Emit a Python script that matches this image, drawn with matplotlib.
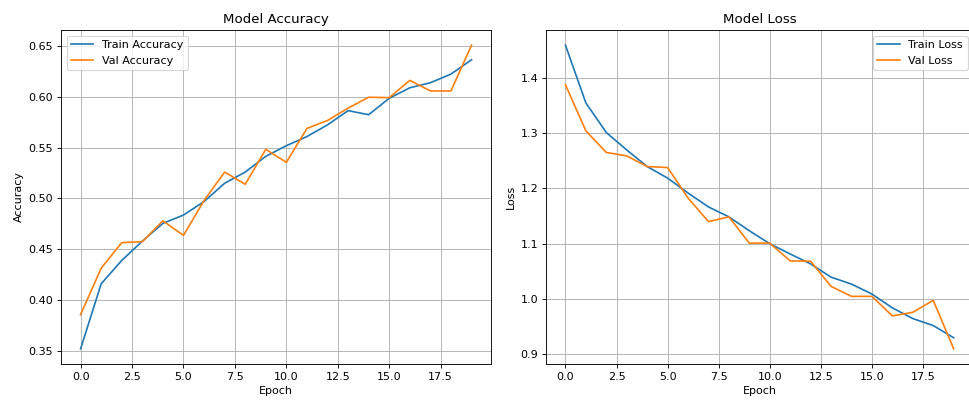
import numpy as np
import matplotlib
matplotlib.use("Agg")
import matplotlib.pyplot as plt

epochs = list(range(20))

train_acc = [0.352, 0.416, 0.439, 0.458, 0.4755, 0.4837, 0.497, 0.515, 0.526, 0.5415,
             0.552, 0.561, 0.5725, 0.5865, 0.5825, 0.5987, 0.609, 0.614, 0.6225, 0.6366]
val_acc = [0.3856, 0.4314, 0.4565, 0.4575, 0.478, 0.4637, 0.498, 0.526, 0.514, 0.5484,
           0.5356, 0.569, 0.5768, 0.589, 0.5997, 0.5993, 0.6163, 0.6059, 0.6059, 0.651]

train_loss = [1.459, 1.3545, 1.301, 1.2695, 1.2395, 1.2186, 1.1916, 1.1665, 1.1485, 1.1234,
              1.100, 1.0814, 1.0635, 1.0395, 1.027, 1.009, 0.984, 0.9647, 0.952, 0.930]
val_loss = [1.3874, 1.304, 1.265, 1.2587, 1.2395, 1.2377, 1.1826, 1.140, 1.1485, 1.101,
            1.101, 1.0689, 1.0683, 1.0228, 1.0048, 1.0048, 0.9695, 0.976, 0.9976, 0.910]

fig = plt.figure(figsize=(969 / 80, 401 / 80), dpi=80)

# right panel runs past the figure edge like in the original crop
ax1 = fig.add_axes([0.063, 0.0923, 0.4438, 0.833])
ax2 = fig.add_axes([0.5635, 0.0923, 0.4407, 0.833])

ax1.plot(epochs, train_acc, label="Train Accuracy")
ax1.plot(epochs, val_acc, label="Val Accuracy")
ax1.set_title("Model Accuracy")
ax1.set_xlabel("Epoch")
ax1.set_ylabel("Accuracy")
ax1.legend()
ax1.grid()

ax2.plot(epochs, train_loss, label="Train Loss")
ax2.plot(epochs, val_loss, label="Val Loss")
ax2.set_title("Model Loss")
ax2.set_xlabel("Epoch")
ax2.set_ylabel("Loss")
ax2.legend()
ax2.grid()

fig.savefig("out.png", dpi=80)
